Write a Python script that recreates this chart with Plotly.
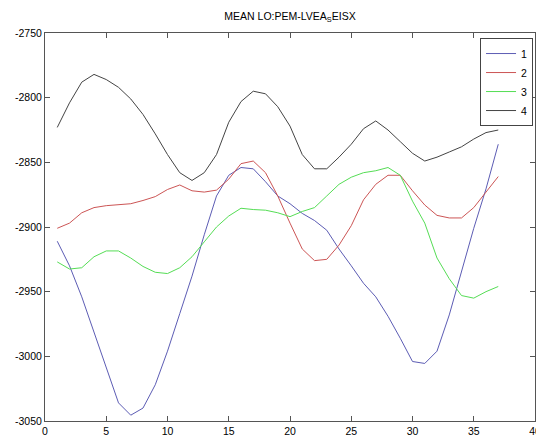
import plotly.graph_objects as go

x_vals = list(range(1, 38))

series_1 = [-2911, -2930, -2954, -2981, -3009, -3036, -3045.5, -3040, -3022, -2996,
            -2967, -2938, -2906, -2876, -2860, -2854, -2855, -2865, -2876, -2882,
            -2889.5, -2895, -2902.5, -2917, -2930, -2943.5, -2954, -2969, -2986, -3004,
            -3005.5, -2996, -2968, -2935, -2901, -2870.5, -2836]
series_2 = [-2901, -2897, -2889, -2885, -2883.5, -2882.5, -2882, -2879.5, -2876.5, -2871,
            -2867.5, -2872, -2873, -2871.5, -2863, -2851, -2849, -2858, -2876, -2897,
            -2917, -2926, -2925, -2914, -2899, -2879, -2867, -2860, -2860, -2872,
            -2883, -2891, -2893, -2893, -2885, -2873, -2861]
series_3 = [-2927, -2932.5, -2931.5, -2923, -2918.5, -2918.5, -2924, -2930.5, -2935, -2936,
            -2931.5, -2923, -2911.5, -2900, -2891.5, -2885.5, -2886.5, -2887, -2889, -2892,
            -2888, -2885, -2876, -2867, -2861.5, -2858, -2856.5, -2854, -2860, -2880,
            -2897, -2924, -2940, -2953, -2955, -2950, -2946]
series_4 = [-2823, -2804, -2788, -2782, -2786, -2792, -2801, -2813, -2828, -2844,
            -2858, -2864, -2858, -2844, -2819, -2803, -2795, -2797, -2807, -2822,
            -2844, -2855, -2855, -2846, -2836, -2824, -2818, -2825, -2834, -2843,
            -2849, -2846, -2842, -2838, -2832, -2827, -2825]

series_names = ["1", "2", "3", "4"]
series_colors = ["#5c5cb4", "#cc5555", "#55dd55", "#444444"]

x_ticks = [0, 5, 10, 15, 20, 25, 30, 35, 40]
x_tick_labels = ["0", "5", "10", "15", "20", "25", "30", "35", "40"]
y_ticks = [-3050, -3000, -2950, -2900, -2850, -2800, -2750]
y_tick_labels = ["-3050", "-3000", "-2950", "-2900", "-2850", "-2800", "-2750"]

title_text = "MEAN LO:PEM-LVEA<sub>S</sub>EISX"

FONT = "Arial, Liberation Sans, sans-serif"

fig = go.Figure()
for name, ys, col in zip(series_names, [series_1, series_2, series_3, series_4], series_colors):
    fig.add_trace(go.Scatter(x=x_vals, y=ys, mode="lines", name=name,
                             line=dict(color=col, width=1)))

axis_common = dict(showgrid=False, zeroline=False, showline=True, linecolor="#555555",
                   linewidth=1, mirror="ticks", ticks="inside", ticklen=5,
                   tickcolor="#555555", ticklabeloverflow="allow",
                   tickfont=dict(family=FONT, size=10.5, color="#000000"))

# the page body adds an 8px margin, so the figure is sized to fit the window
fig.update_layout(
    width=536, height=432,
    margin=dict(l=37, r=3, t=25, b=17),
    paper_bgcolor="white", plot_bgcolor="white",
    font=dict(family=FONT, size=10.5, color="#000000"),
    title=dict(text=title_text, x=0.5, xref="paper", xanchor="center",
               y=1 - 8 / 432, yref="container", yanchor="middle",
               font=dict(family=FONT, size=10.5, color="#000000")),
    xaxis=dict(range=[0, 40], tickvals=x_ticks, ticktext=x_tick_labels, **axis_common),
    yaxis=dict(range=[-3050, -2750], tickvals=y_ticks, ticktext=y_tick_labels, **axis_common),
    legend=dict(x=0.996, y=0.987, xanchor="right", yanchor="top",
                bgcolor="white", bordercolor="#444444", borderwidth=1,
                font=dict(family=FONT, size=10.5, color="#000000"),
                tracegroupgap=0),
    showlegend=True,
)

fig.write_html("out.html")
